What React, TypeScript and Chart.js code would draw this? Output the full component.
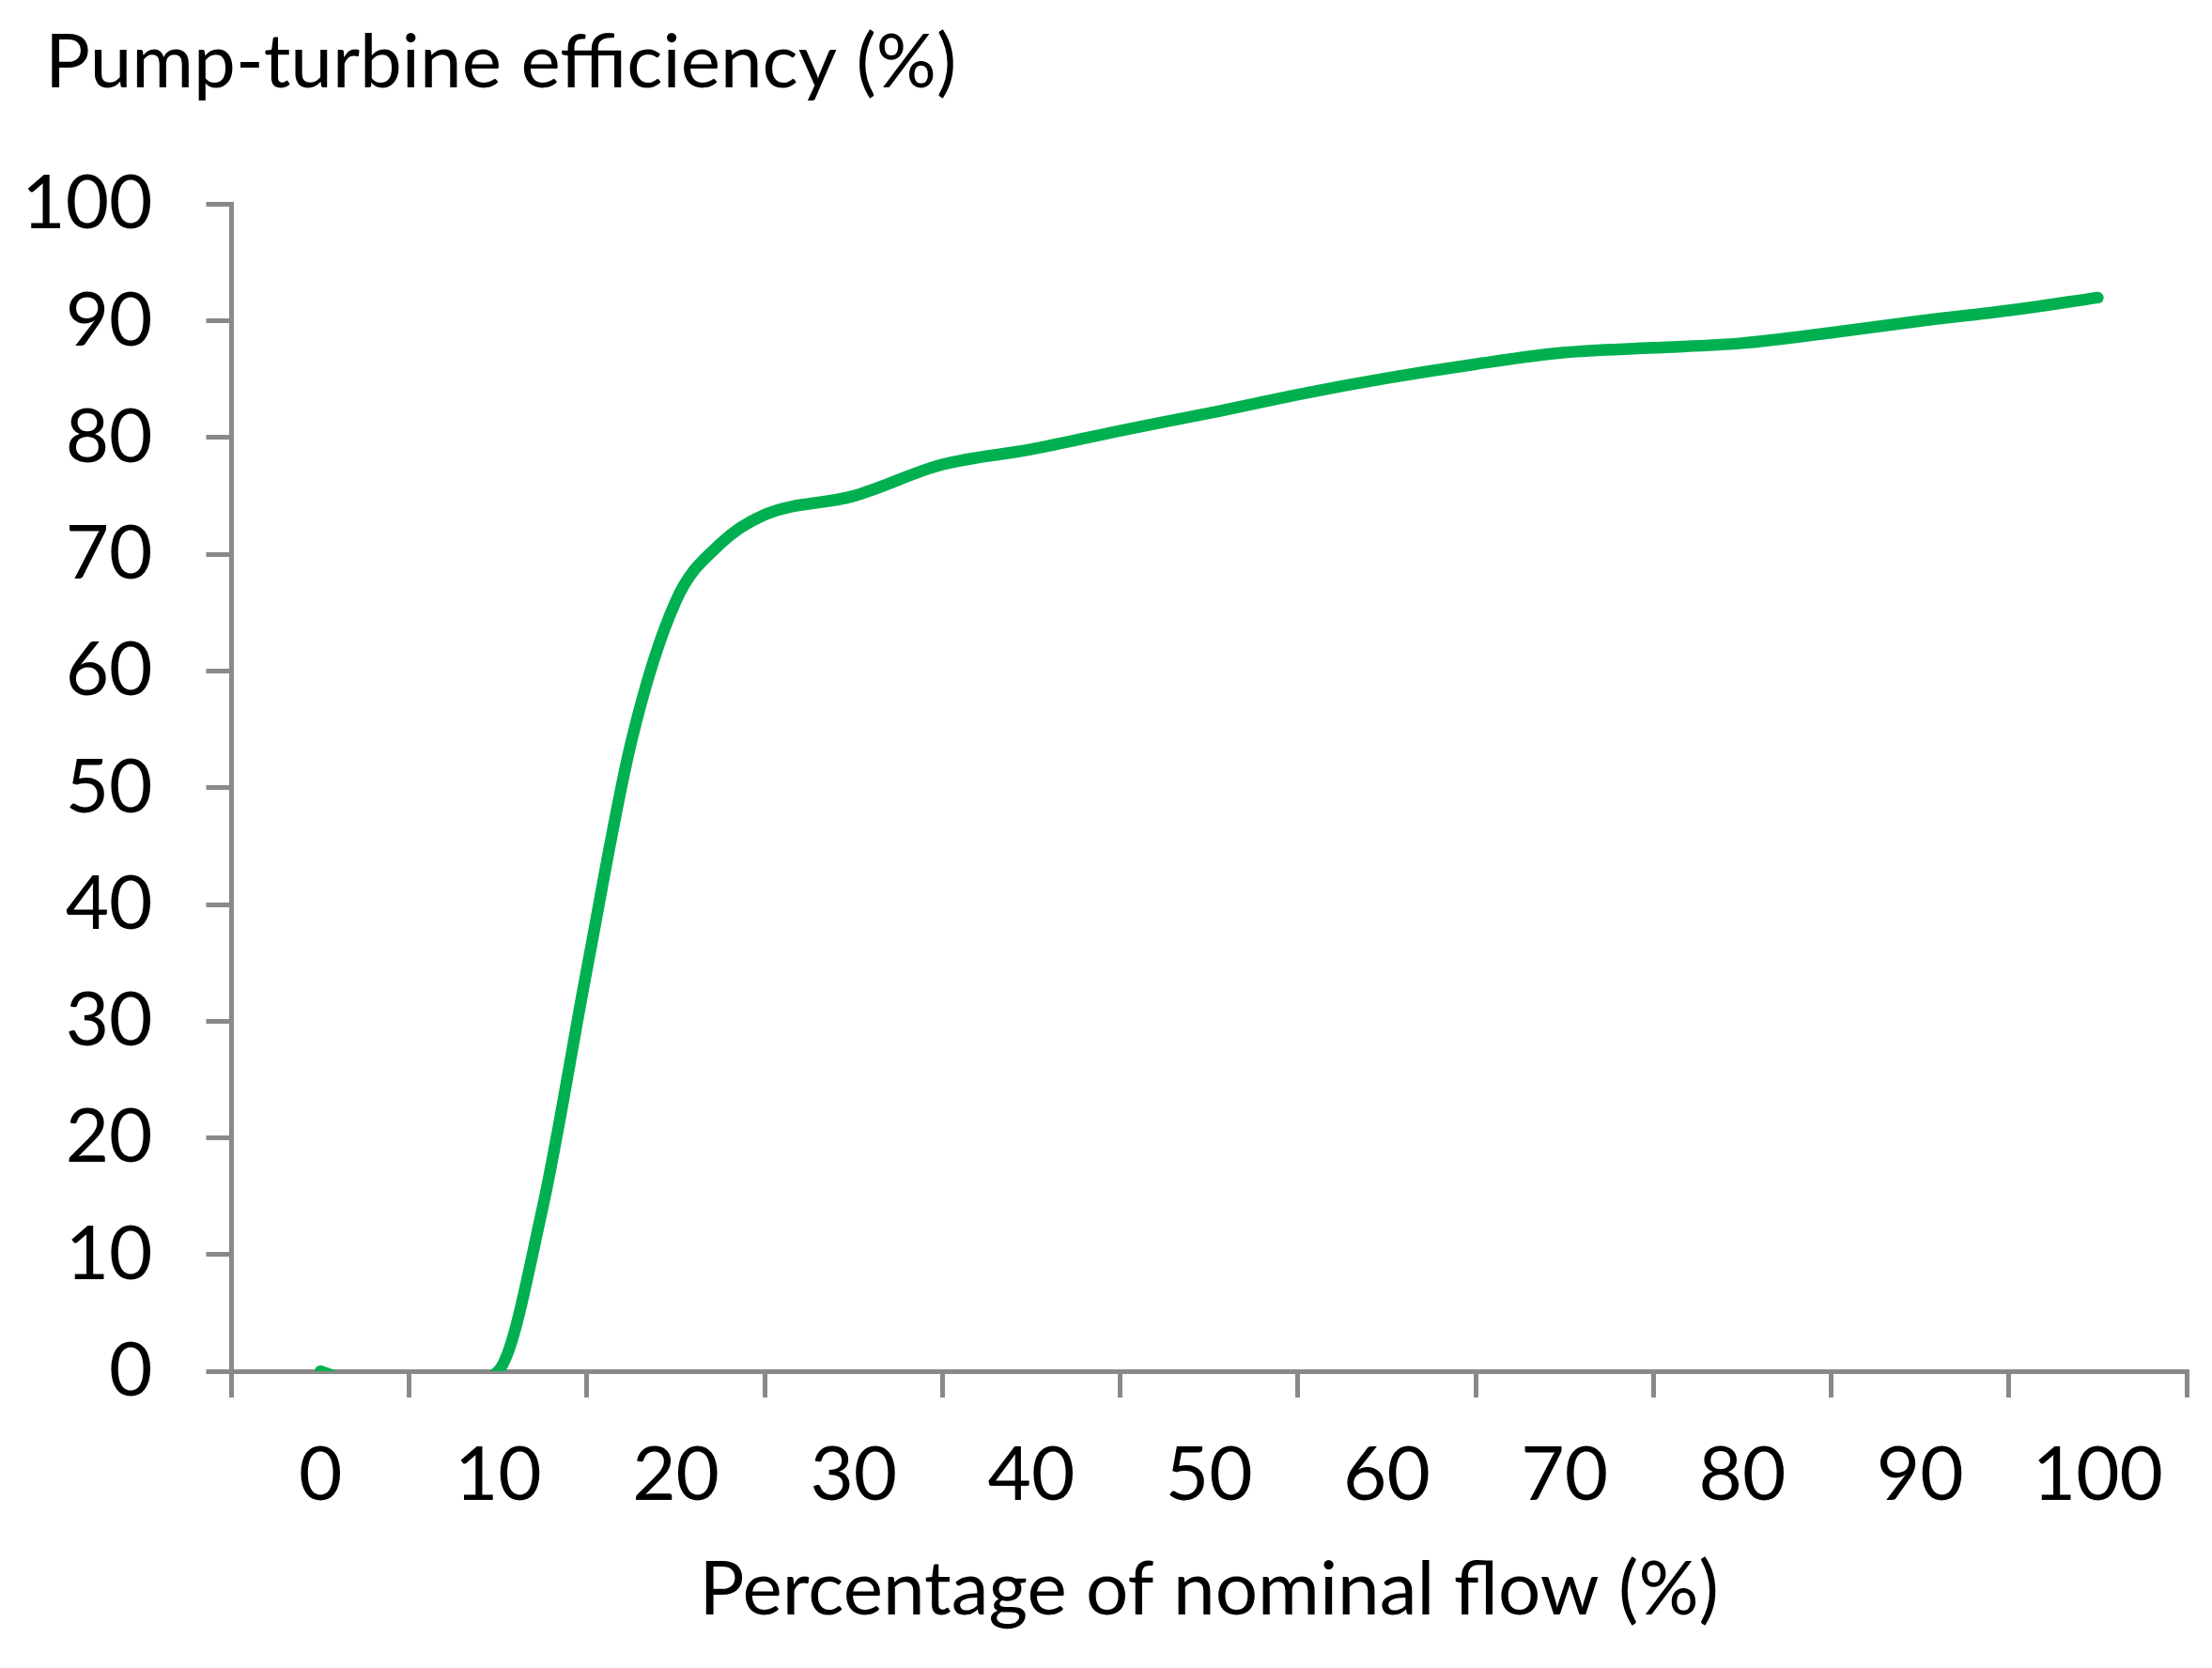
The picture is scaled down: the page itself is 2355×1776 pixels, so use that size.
import React, { useEffect, useRef } from 'react';
import Chart from 'chart.js/auto';

// percentage of nominal flow (x) and pump-turbine efficiency (y)
const flowPct = [0, 5, 10, 12.5, 15, 17.5, 20, 22.5, 25, 30, 35, 40, 45, 50, 55, 60, 65, 70, 75, 80, 85, 90, 95, 100];
const efficiency = [0, -2.5, 0, 14, 34.5, 54, 66, 70.9, 73.4, 75, 77.7, 79, 80.6, 82.1, 83.7, 85.1, 86.3, 87.3, 87.7, 88.1, 89, 90, 90.9, 92];

const xTickValues = [0, 10, 20, 30, 40, 50, 60, 70, 80, 90, 100];

const Y_TITLE = 'Pump-turbine efficiency (%)';
const X_TITLE = 'Percentage of nominal flow (%)';

const FONT = 'Lato, "Open Sans", sans-serif';
const FONT_SIZE = 80;
const AXIS_GRAY = '#898989';
const LINE_GREEN = '#00B050';

// the value-axis caption sits horizontally above the plot, left of the tick labels
const cornerTitle = {
  id: 'cornerTitle',
  afterDraw(chart: Chart) {
    const { ctx } = chart;
    ctx.save();
    ctx.font = `${FONT_SIZE}px ${FONT}`;
    ctx.fillStyle = '#000';
    ctx.textAlign = 'left';
    ctx.textBaseline = 'alphabetic';
    ctx.fillText(Y_TITLE, 48, 93);
    ctx.restore();
  }
};

const App: React.FC = () => {
  const canvasRef = useRef<HTMLCanvasElement>(null);
  const chartRef = useRef<Chart | null>(null);

  useEffect(() => {
    document.body.style.margin = '0';
    if (!canvasRef.current) return;

    if (chartRef.current) {
      chartRef.current.destroy();
    }

    chartRef.current = new Chart(canvasRef.current, {
      type: 'line',
      data: {
        datasets: [{
          label: 'Efficiency',
          data: flowPct.map((x, i) => ({ x, y: efficiency[i] })),
          borderColor: LINE_GREEN,
          borderWidth: 12.5,
          borderCapStyle: 'round',
          borderJoinStyle: 'round',
          cubicInterpolationMode: 'monotone',
          capBezierPoints: false,
          pointRadius: 0,
          fill: false,
        }]
      },
      options: {
        animation: false,
        responsive: true,
        maintainAspectRatio: false,
        layout: {
          padding: { left: 0, right: 27, top: 217.5, bottom: 0 }
        },
        scales: {
          x: {
            type: 'linear',
            min: -5,
            max: 105,
            afterBuildTicks: (scale) => {
              scale.ticks = xTickValues.map(v => ({ value: v }));
            },
            afterFit: (scale) => {
              scale.height = 316;
            },
            grid: {
              offset: true,
              drawOnChartArea: false,
              color: AXIS_GRAY,
              lineWidth: 5,
              tickLength: 28,
            },
            border: { color: AXIS_GRAY, width: 5 },
            ticks: {
              color: '#000',
              padding: 35,
              maxRotation: 0,
              autoSkip: false,
              font: { family: FONT, size: FONT_SIZE },
            },
            title: {
              display: true,
              text: X_TITLE,
              color: '#000',
              font: { family: FONT, size: FONT_SIZE },
              padding: { top: 0, bottom: 35 },
            }
          },
          y: {
            min: 0,
            max: 100,
            afterFit: (scale) => {
              scale.width = 246.5;
            },
            grid: {
              drawOnChartArea: false,
              color: AXIS_GRAY,
              lineWidth: 5,
              tickLength: 27,
            },
            border: { color: AXIS_GRAY, width: 5 },
            ticks: {
              stepSize: 10,
              color: '#000',
              padding: 57,
              font: { family: FONT, size: FONT_SIZE },
            }
          }
        },
        plugins: {
          legend: { display: false },
          tooltip: { enabled: false }
        }
      },
      plugins: [cornerTitle]
    });

    return () => {
      if (chartRef.current) {
        chartRef.current.destroy();
        chartRef.current = null;
      }
    };
  }, []);

  return (
    <div style={{ position: 'relative', width: '2355px', height: '1776px', background: '#fff' }}>
      <canvas ref={canvasRef}></canvas>
    </div>
  );
};

export default App;
